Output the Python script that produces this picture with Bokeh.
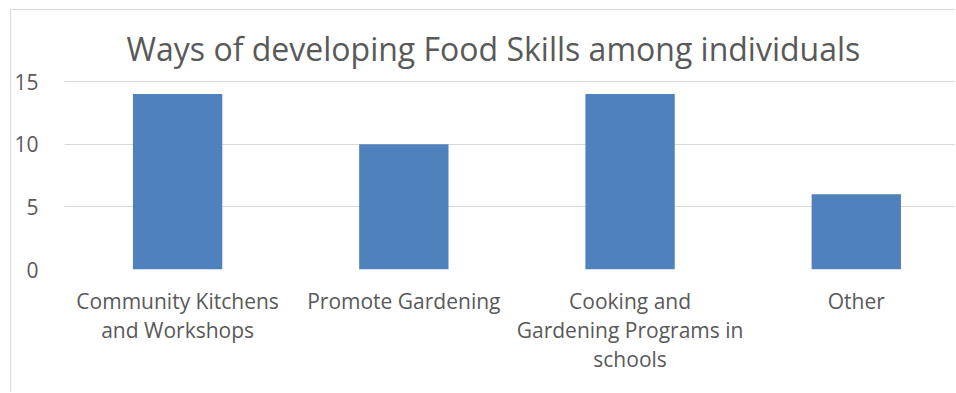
from bokeh.plotting import figure
from bokeh.models import Range1d, FixedTicker, ColumnDataSource
from bokeh.embed import file_html
from bokeh.resources import INLINE

categories = ["Community Kitchens\nand Workshops", "Promote Gardening",
              "Cooking and\nGardening Programs in\nschools", "Other"]
values = [14, 10, 14, 6]
y_ticks = [0, 5, 10, 15]
title_text = "Ways of developing Food Skills among individuals"

xs = [i + 0.5 for i in range(len(categories))]
src = ColumnDataSource(dict(x=xs, top=values))

FONT = "Open Sans"
GREY = "#595959"

p = figure(width=945, height=383, output_backend="svg", toolbar_location=None,
           x_range=Range1d(0, 3.943), y_range=Range1d(0, 15.88),
           min_border_left=45, min_border_right=0, min_border_top=60, min_border_bottom=124,
           title=title_text)
p.styles = {"margin-left": "10px", "margin-top": "9px",
            "border-left": "1px solid #d9d9d9", "border-top": "1px solid #d9d9d9"}

p.vbar(x="x", top="top", width=0.395, bottom=0, source=src,
       fill_color="#4F81BD", line_color=None)

p.title.text_font = FONT
p.title.text_font_size = "32px"
p.title.text_font_style = "normal"
p.title.text_color = GREY
p.title.align = "left"
p.title.offset = 62
p.title.standoff = 1

p.outline_line_color = None
p.xgrid.grid_line_color = None
p.ygrid.grid_line_color = "#d9d9d9"
p.ygrid.grid_line_width = 1
p.ygrid.ticker = FixedTicker(ticks=y_ticks)

p.yaxis.ticker = FixedTicker(ticks=y_ticks)
p.yaxis.axis_line_color = None
p.yaxis.major_tick_line_color = None
p.yaxis.minor_tick_line_color = None
p.yaxis.major_label_text_font = FONT
p.yaxis.major_label_text_font_size = "21px"
p.yaxis.major_label_text_color = GREY
p.yaxis.major_label_standoff = 20

p.xaxis.ticker = FixedTicker(ticks=xs)
p.xaxis.major_label_overrides = {x: c for x, c in zip(xs, categories)}
p.xaxis.axis_line_color = None
p.xaxis.major_tick_line_color = None
p.xaxis.minor_tick_line_color = None
p.xaxis.major_label_text_font = FONT
p.xaxis.major_label_text_font_size = "21px"
p.xaxis.major_label_text_color = GREY
p.xaxis.major_label_standoff = 11
p.xaxis.major_label_text_line_height = 1.05

p.background_fill_color = "white"
p.border_fill_color = "white"

open("out.html", "w").write(file_html(p, INLINE))
